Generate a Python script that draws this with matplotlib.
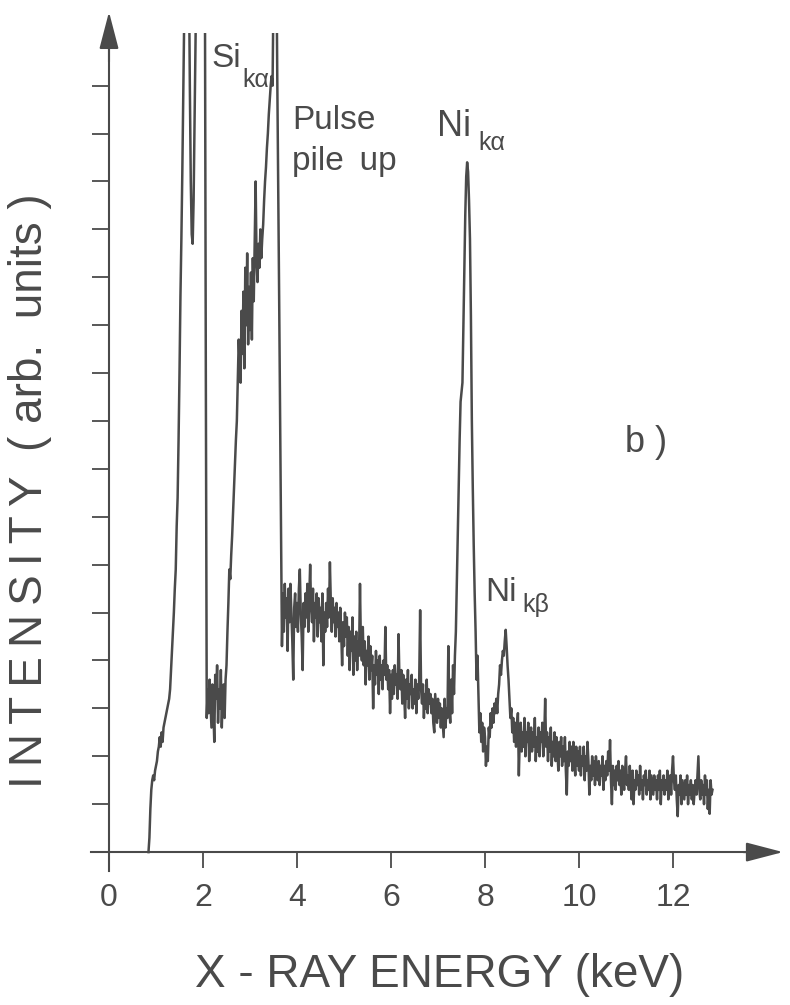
import matplotlib.pyplot as plt
from matplotlib.patches import Rectangle
import numpy as np

# spectrum as recorded: channel counts on a fixed energy calibration
E0 = 0.84          # keV, first channel
CH_WIDTH = 0.02    # keV per channel
FULL_SCALE = 17.1  # recorder paper top, peaks above this are off scale
counts = [
    0.0, 0.3, 0.9, 1.3, 1.5, 1.6, 1.5, 1.7, 1.8, 1.9,
    2.1, 2.2, 2.4, 2.2, 2.5, 2.3, 2.6, 2.7, 2.8, 2.9,
    3.0, 3.1, 3.2, 3.4, 3.8, 4.2, 4.6, 5.0, 5.5, 5.9,
    6.8, 7.4, 8.6, 10.0, 11.6, 12.8, 14.2, 15.8, 17.4, 19.0,
    21.0, 22.0, 21.0, 18.5, 16.0, 14.0, 12.9, 12.7, 13.6, 15.2,
    16.8, 18.5, 21.0, 23.0, 24.0, 24.5, 24.0, 23.0, 21.5, 20.0,
    18.5, 10.0, 2.8, 3.4, 2.9, 3.6, 3.1, 2.6, 3.5, 3.0,
    2.3, 3.7, 3.2, 3.9, 2.7, 3.4, 3.0, 3.8, 2.6, 3.3,
    3.5, 2.8, 3.6, 3.9, 4.6, 5.2, 5.9, 5.7, 6.2, 6.6,
    7.1, 7.6, 8.1, 8.6, 9.0, 9.9, 10.7, 10.2, 9.8, 11.3,
    10.4, 11.7, 10.1, 12.2, 11.0, 12.5, 10.6, 11.8, 10.9, 12.1,
    10.7, 12.4, 11.5, 12.8, 14.0, 12.3, 11.9, 12.7, 12.2, 13.0,
    12.4, 12.8, 13.1, 13.6, 14.0, 14.3, 14.7, 15.0, 15.4, 15.7,
    16.0, 16.2, 16.0, 18.0, 20.0, 21.0, 19.0, 16.2, 14.0, 11.6,
    9.2, 6.8, 4.3, 5.4, 4.6, 5.6, 4.9, 5.3, 4.2, 5.5,
    4.8, 5.6, 5.0, 4.4, 3.6, 5.1, 5.4, 4.7, 5.2, 4.6,
    5.5, 5.9, 5.0, 4.5, 3.8, 5.2, 4.7, 5.4, 4.9, 5.6,
    4.6, 5.3, 6.0, 5.1, 4.8, 5.5, 4.4, 5.2, 4.9, 5.4,
    4.5, 5.3, 4.8, 5.1, 4.4, 5.4, 3.9, 5.0, 4.6, 5.2,
    4.7, 5.5, 4.9, 6.05, 5.2, 4.6, 5.3, 4.8, 5.1, 4.5,
    5.2, 4.7, 5.0, 4.4, 5.1, 4.6, 3.9, 4.8, 4.3, 5.0,
    4.5, 4.9, 4.1, 4.7, 3.8, 4.6, 4.2, 4.9, 3.7, 4.5,
    4.0, 4.6, 3.8, 4.4, 4.1, 5.6, 4.3, 4.0, 4.7, 3.9,
    4.4, 3.5, 4.2, 3.9, 4.5, 3.6, 4.3, 3.8, 4.1, 3.0,
    3.9, 3.5, 4.2, 3.7, 4.0, 3.3, 4.1, 3.6, 3.9, 3.4,
    4.0, 3.7, 4.7, 3.6, 3.9, 3.4, 3.8, 2.9, 3.7, 3.2,
    3.8, 3.3, 3.9, 3.5, 3.7, 3.2, 4.55, 3.6, 3.4, 3.8,
    3.1, 3.7, 3.3, 2.8, 3.6, 3.2, 3.8, 3.0, 3.5, 3.3,
    3.7, 3.0, 3.4, 3.1, 3.6, 2.9, 3.5, 3.2, 3.6, 5.05,
    3.4, 3.1, 3.5, 2.8, 3.3, 3.0, 3.6, 2.9, 3.4, 3.1,
    3.3, 2.9, 3.2, 2.7, 2.5, 3.3, 3.0, 2.7, 3.2, 2.8,
    3.1, 2.6, 3.0, 2.7, 2.4, 3.2, 2.6, 3.0, 2.8, 4.3,
    3.0, 2.7, 3.6, 2.9, 3.9, 3.3, 4.1, 4.6, 5.6, 6.6,
    7.6, 8.6, 9.4, 9.6, 9.8, 11.0, 12.2, 13.3, 14.1, 14.4,
    14.2, 13.6, 12.8, 11.2, 9.0, 7.6, 6.4, 5.4, 4.6, 3.6,
    4.1, 3.3, 2.5, 2.9, 2.3, 2.7, 2.1, 2.6, 2.4, 1.8,
    2.2, 1.9, 2.6, 2.4, 2.9, 2.6, 3.0, 2.7, 3.1, 2.9,
    3.2, 2.9, 3.3, 3.5, 3.9, 3.7, 4.0, 4.2, 4.1, 4.4,
    4.64, 4.3, 3.9, 3.6, 3.2, 2.8, 3.0, 2.5, 2.8, 2.3,
    2.7, 2.2, 2.6, 2.9, 1.6, 2.4, 2.7, 2.1, 2.5, 2.2,
    2.8, 2.0, 2.5, 2.3, 2.7, 1.9, 2.4, 2.6, 2.1, 2.5,
    2.2, 2.8, 1.9, 2.4, 2.1, 2.6, 2.0, 2.5, 2.3, 2.7,
    2.0, 2.4, 3.2, 2.2, 2.5, 1.9, 2.4, 2.1, 2.6, 1.8,
    2.3, 2.0, 2.5, 1.9, 2.4, 2.1, 1.7, 2.3, 2.0, 2.4,
    1.8, 2.2, 1.9, 2.4, 1.7, 1.2, 2.1, 1.8, 2.3, 1.9,
    2.2, 1.7, 2.3, 1.9, 1.6, 2.2, 1.8, 2.1, 1.7, 2.2,
    1.6, 2.0, 1.8, 2.2, 1.5, 2.0, 1.7, 2.3, 1.9, 1.2,
    1.8, 1.5, 2.0, 1.6, 1.9, 1.4, 2.0, 1.7, 1.5, 1.9,
    1.4, 1.8, 1.6, 2.0, 1.3, 1.8, 1.5, 1.9, 1.6, 2.1,
    1.7, 2.34, 1.5, 1.0, 1.8, 1.4, 1.7, 1.3, 1.8, 1.5,
    1.9, 1.4, 1.7, 1.2, 1.8, 1.5, 1.3, 1.7, 2.0, 1.4,
    1.6, 1.3, 1.8, 1.4, 1.1, 1.7, 1.0, 1.5, 1.3, 1.7,
    1.4, 1.6, 1.2, 1.8, 1.3, 1.5, 1.1, 1.6, 1.4, 1.7,
    1.2, 1.5, 1.3, 1.7, 1.1, 1.6, 1.4, 1.2, 1.6, 1.3,
    1.5, 1.1, 1.6, 1.3, 1.7, 1.0, 1.5, 1.3, 1.6, 1.2,
    1.5, 1.3, 1.7, 1.1, 1.4, 1.6, 1.2, 1.7, 2.0, 1.5,
    1.3, 1.6, 1.1, 0.75, 1.4, 1.2, 1.6, 1.0, 1.5, 1.3,
    1.1, 1.5, 1.2, 1.6, 1.0, 1.4, 1.2, 1.5, 1.1, 1.4,
    1.0, 1.3, 1.5, 1.2, 1.6, 2.0, 1.3, 1.1, 1.5, 1.2,
    1.4, 1.0, 1.6, 1.2, 1.5, 0.9, 1.3, 0.8, 1.5, 1.2,
    1.3,
]
xticks = [0, 2, 4, 6, 8, 10, 12]
yticks = list(range(1, 17))

INK = '#4a4a4a'
plt.rcParams['font.family'] = ['Liberation Sans', 'DejaVu Sans']

energy = E0 + CH_WIDTH * np.arange(len(counts))

fig = plt.figure(figsize=(7.9, 10.05), dpi=100)
ax = fig.add_axes([0.1112, 0.1307, 0.8835, 0.8603])
ax.set_xlim(-0.45, 14.4)
ax.set_ylim(-0.45, 17.6)

line, = ax.plot(energy, counts, color=INK, lw=1.8)
paper = Rectangle((-1, -1), 20, FULL_SCALE + 1, transform=ax.transData,
                  fill=False, visible=False)
ax.add_patch(paper)
line.set_clip_path(paper)

for s in ['top', 'right']:
    ax.spines[s].set_visible(False)
ax.spines['bottom'].set_position(('data', 0))
ax.spines['left'].set_position(('data', 0))
ax.spines['bottom'].set_bounds(-0.38, 13.8)
ax.spines['left'].set_bounds(-0.4, 17.0)
for s in ['bottom', 'left']:
    ax.spines[s].set_color(INK)
    ax.spines[s].set_linewidth(1.5)

arrow = dict(arrowstyle='-|>,head_length=1.15,head_width=0.3', color=INK,
             lw=1.5, shrinkA=0, shrinkB=0, mutation_scale=20)
ax.annotate('', xy=(14.34, 0), xytext=(13.5, 0), arrowprops=arrow)
ax.annotate('', xy=(0, 17.54), xytext=(0, 16.5), arrowprops=arrow)

ax.set_xticks(xticks)
ax.set_xticklabels([str(t) for t in xticks])
ax.set_yticks(yticks)
ax.set_yticklabels([])
ax.tick_params(axis='x', direction='out', length=11.5, width=1.3, color=INK,
               pad=11, labelsize=23, labelcolor=INK)
ax.tick_params(axis='y', direction='out', length=12, width=1.3, color=INK)

ts = '\u2009'
fig.text(0.557, 0.030, 'X - RAY ENERGY (keV)', ha='center', va='center',
         fontsize=33, color=INK)
ylab = ts.join('INTENSITY') + '  ( arb.  units )'
fig.text(0.038, 0.512, ylab, ha='center', va='center',
         rotation=90, fontsize=33, color=INK)

txt = dict(color=INK, va='baseline', ha='left')
ax.text(2.19, 16.39, 'Si', fontsize=24, **txt)
ax.text(2.83, 15.97, 'kα', fontsize=18, **txt)
ax.text(3.89, 15.1, 'Pulse', fontsize=24, **txt)
ax.text(3.89, 14.24, 'pile' + ts + ' up', fontsize=24, **txt)
ax.text(6.98, 14.95, 'Ni', fontsize=26, **txt)
ax.text(7.85, 14.65, 'kα', fontsize=18, **txt)
ax.text(10.98, 8.35, 'b )', fontsize=26, **txt)
ax.text(8.0, 5.25, 'Ni', fontsize=24, **txt)
ax.text(8.79, 5.02, 'kβ', fontsize=18, **txt)

plt.savefig('out.png', dpi=100)
